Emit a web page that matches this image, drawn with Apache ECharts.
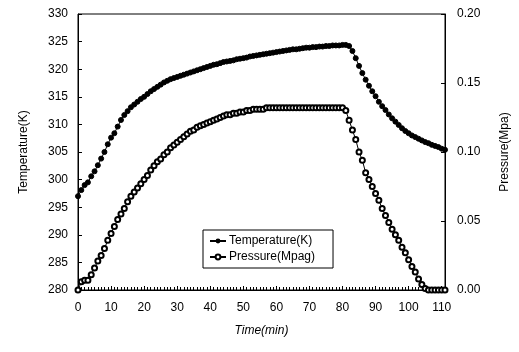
<!DOCTYPE html>
<html><head><meta charset="utf-8">
<script src="https://cdn.jsdelivr.net/npm/echarts@6/dist/echarts.min.js"></script>
<style>html,body{margin:0;padding:0;background:#fff}#c{width:519px;height:352px}</style>
</head><body><div id="c"></div>
<script>
const time = [];
for (let i = 0; i <= 111; i++) time.push(i);
const temperature = [297.0,298.1,299.0,299.5,300.6,301.5,302.6,303.8,305.0,306.4,307.6,308.4,309.6,310.8,311.7,312.4,313.1,313.6,314.1,314.6,315.0,315.5,316.0,316.4,316.8,317.2,317.6,317.9,318.2,318.4,318.6,318.8,319.0,319.2,319.4,319.6,319.8,320.0,320.2,320.4,320.6,320.8,320.9,321.1,321.3,321.4,321.5,321.6,321.8,321.9,322.0,322.1,322.3,322.4,322.5,322.6,322.7,322.8,322.9,323.0,323.1,323.2,323.3,323.4,323.5,323.6,323.6,323.7,323.8,323.9,323.9,324.0,324.0,324.1,324.1,324.2,324.2,324.3,324.3,324.3,324.4,324.4,324.2,323.3,322.0,320.6,319.3,318.1,317.0,316.0,315.1,314.1,313.3,312.6,311.8,311.1,310.5,309.9,309.3,308.8,308.4,308.0,307.7,307.4,307.1,306.8,306.6,306.3,306.1,305.9,305.6,305.4];
const pressure = [0,0.006,0.007,0.007,0.011,0.016,0.021,0.025,0.030,0.036,0.041,0.046,0.051,0.055,0.059,0.064,0.068,0.071,0.074,0.077,0.080,0.083,0.087,0.090,0.093,0.095,0.098,0.100,0.103,0.105,0.107,0.109,0.111,0.113,0.115,0.116,0.118,0.119,0.120,0.121,0.122,0.123,0.124,0.125,0.126,0.127,0.127,0.128,0.128,0.129,0.129,0.130,0.130,0.131,0.131,0.131,0.131,0.132,0.132,0.132,0.132,0.132,0.132,0.132,0.132,0.132,0.132,0.132,0.132,0.132,0.132,0.132,0.132,0.132,0.132,0.132,0.132,0.132,0.132,0.132,0.132,0.130,0.123,0.116,0.109,0.100,0.094,0.085,0.080,0.075,0.070,0.065,0.059,0.054,0.049,0.044,0.040,0.036,0.031,0.027,0.022,0.017,0.013,0.008,0.004,0.001,0,0,0,0,0,0];
const tempTicks = [280,285,290,295,300,305,310,315,320,325,330];
const presTicks = ['0.00','0.05','0.10','0.15','0.20'];
const timeTicks = [0,10,20,30,40,50,60,70,80,90,100,110];

const font = 'Liberation Sans, Arial, sans-serif';
const chart = echarts.init(document.getElementById('c'), null, {renderer:'canvas'});
chart.setOption({
  animation:false,
  backgroundColor:'#fff',
  grid:{left:78, right:68, top:14, bottom:62, show:true, borderColor:'#000', borderWidth:1, backgroundColor:'transparent'},
  legend:{
    orient:'vertical', left:203, top:230,
    backgroundColor:'#fff', borderColor:'#000', borderWidth:1, padding:[5,18,5,6],
    itemWidth:16, itemHeight:6, itemGap:4,
    textStyle:{fontFamily:font, fontSize:12, color:'#000', padding:[0,0,0,-2]},
    data:['Temperature(K)','Pressure(Mpag)']
  },
  xAxis:{
    type:'value', min:0, max:111, interval:10,
    name:'Time(min)', nameLocation:'middle', nameGap:35,
    nameTextStyle:{fontFamily:font, fontSize:12, fontStyle:'italic', color:'#000'},
    axisLine:{show:true, lineStyle:{color:'#000', width:1}},
    axisTick:{show:true, inside:true, length:4, lineStyle:{color:'#000'}},
    minorTick:{show:true, splitNumber:10, length:3, lineStyle:{color:'#000'}},
    splitLine:{show:false},
    axisLabel:{fontFamily:font, fontSize:12, color:'#000', margin:12,
      customValues: timeTicks, formatter: v => String(v)}
  },
  yAxis:[{
    type:'value', min:280, max:330, interval:5, position:'left',
    name:'Temperature(K)', nameLocation:'middle', nameGap:48, nameRotate:90,
    nameTextStyle:{fontFamily:font, fontSize:12, color:'#000'},
    axisLine:{show:true, lineStyle:{color:'#000'}},
    axisTick:{show:true, inside:true, length:4, lineStyle:{color:'#000'}},
    splitLine:{show:false},
    axisLabel:{fontFamily:font, fontSize:12, color:'#000', margin:10,
      formatter: v => tempTicks.includes(v) ? String(v) : ''}
  },{
    type:'value', min:0, max:0.2, interval:0.05, position:'right',
    name:'Pressure(Mpa)', nameLocation:'middle', nameGap:54, nameRotate:90,
    nameTextStyle:{fontFamily:font, fontSize:12, color:'#000'},
    axisLine:{show:true, lineStyle:{color:'#000'}},
    axisTick:{show:true, inside:true, length:4, lineStyle:{color:'#000'}},
    splitLine:{show:false},
    axisLabel:{fontFamily:font, fontSize:12, color:'#000', margin:12,
      formatter: v => presTicks[Math.round(v/0.05)]}
  }],
  series:[{
    name:'Temperature(K)', type:'line', yAxisIndex:0,
    data: time.map((t,i)=>[t, temperature[i]]),
    symbol:'circle', symbolSize:5, showAllSymbol:true,
    lineStyle:{color:'#000', width:1}, itemStyle:{color:'#000', borderColor:'#000'}
  },{
    name:'Pressure(Mpag)', type:'line', yAxisIndex:1,
    data: time.map((t,i)=>[t, pressure[i]]),
    symbol:'emptyCircle', symbolSize:5, showAllSymbol:true,
    lineStyle:{color:'#000', width:1}, itemStyle:{color:'#000', borderColor:'#000', borderWidth:1}
  }]
});
</script></body></html>
